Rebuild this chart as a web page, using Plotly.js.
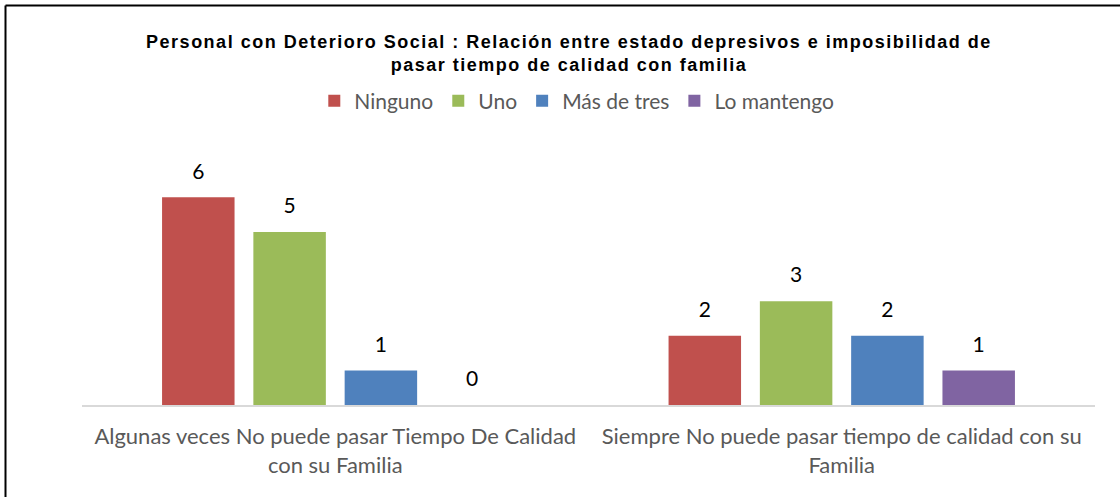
<!DOCTYPE html>
<html><head><meta charset="utf-8">
<script src="https://cdn.plot.ly/plotly-3.0.1.min.js"></script>
<style>html,body{margin:0;padding:0;background:#fff}#chart{width:1120px;height:497px}
#chart .gtitle{letter-spacing:1.5px}</style>
</head><body><div id="chart"></div>
<script>
const categories = [
  "Algunas veces No puede pasar Tiempo De Calidad<br>con su Familia",
  "Siempre No puede pasar tiempo de calidad con su<br>Familia"
];
const seriesNames = ["Ninguno", "Uno", "Más de tres", "Lo mantengo"];
const ninguno = [6, 2];
const uno = [5, 3];
const masDeTres = [1, 2];
const loMantengo = [0, 1];
const seriesValues = [ninguno, uno, masDeTres, loMantengo];
const colors = ["#C0504D", "#9BBB59", "#4F81BD", "#8064A2"];

const W = 1120, H = 497;
const M = {l: 82, r: 25, t: 128, b: 92};
const pw = W - M.l - M.r, ph = H - M.t - M.b;
const txtFont = "Lato, 'Open Sans', sans-serif";
const GAP = 0.279;

const traces = [];
seriesValues.forEach((vals, i) => {
  traces.push({
    type: "bar", name: seriesNames[i], x: categories, y: vals,
    marker: {color: colors[i]}, hoverinfo: "skip"
  });
});
seriesValues.forEach((vals, i) => {
  traces.push({
    type: "scatter", mode: "markers+text", x: categories, y: vals,
    text: vals.map(String), textposition: "top center",
    textfont: {family: txtFont, size: 21, color: "#000"},
    marker: {size: 20, color: "rgba(0,0,0,0)"},
    showlegend: false, hoverinfo: "skip", cliponaxis: false
  });
});

const px = v => (v - M.l) / pw;
const py = v => (H - M.b - v) / ph;

const layout = {
  width: W, height: H,
  margin: M,
  paper_bgcolor: "#fff", plot_bgcolor: "#fff",
  barmode: "group", bargap: GAP, bargroupgap: 0.206,
  scattermode: "group", scattergap: GAP,
  title: {
    text: "Personal con Deterioro Social : Relación entre estado depresivos e imposibilidad de<br>pasar tiempo de calidad con familia",
    font: {family: "'Liberation Sans', Arial, sans-serif", size: 18, color: "#000", weight: "bold"},
    x: 0.508, xanchor: "center", xref: "container",
    y: 1 - 48 / H, yanchor: "top", yref: "container"
  },
  showlegend: true,
  legend: {
    orientation: "h", xref: "container", yref: "container",
    x: 0.515, xanchor: "center", y: 1 - 101 / H, yanchor: "middle",
    font: {family: txtFont, size: 21, color: "#595959"},
    traceorder: "normal", itemclick: false
  },
  xaxis: {
    type: "category", showline: true, linecolor: "#D9D9D9", linewidth: 1.5,
    ticks: "", showgrid: false, zeroline: false,
    tickfont: {family: txtFont, size: 22, color: "#595959"},
    ticklabelstandoff: 11, fixedrange: true
  },
  yaxis: {
    range: [0, 8], visible: false, showgrid: false, zeroline: false, fixedrange: true
  },
  shapes: [
    {type: "line", xref: "paper", yref: "paper", x0: px(5.5), x1: px(5.5), y0: py(5.5), y1: py(H + 5), line: {color: "#000", width: 2}},
    {type: "line", xref: "paper", yref: "paper", x0: px(5.5), x1: px(W + 5), y0: py(5.5), y1: py(5.5), line: {color: "#000", width: 2}}
  ]
};
Plotly.newPlot("chart", traces, layout, {displayModeBar: false, staticPlot: true});
</script></body></html>
